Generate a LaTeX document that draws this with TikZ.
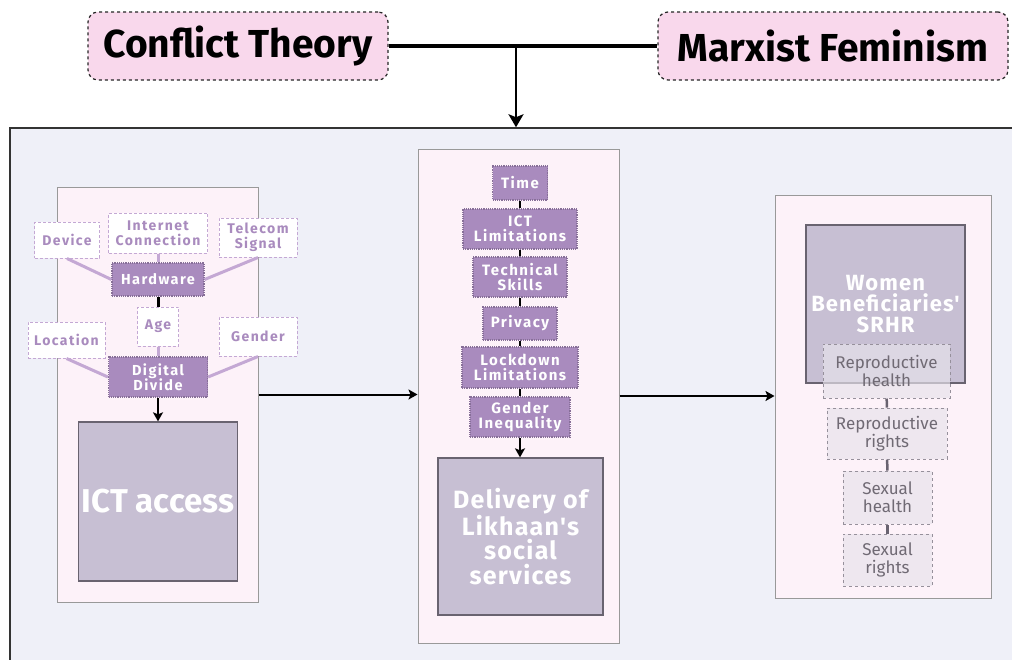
\documentclass[tikz,border=0pt]{standalone}
\usepackage{fontspec}
\setmainfont{Fira Sans}
\newfontfamily\spacedfont{Fira Sans}[LetterSpace=10]
\newfontfamily\widefont{Fira Sans}[LetterSpace=5]
\usetikzlibrary{shapes.geometric, arrows.meta, positioning, calc}
\definecolor{outerfill}{RGB}{239,240,248}
\definecolor{panelfill}{RGB}{253,242,249}
\definecolor{theorypink}{RGB}{249,216,236}
\definecolor{barrierpurple}{RGB}{169,139,190}
\definecolor{factorline}{RGB}{196,168,212}
\definecolor{outcomegray}{RGB}{199,191,211}
\definecolor{outcomeline}{RGB}{105,99,112}
\definecolor{componentfill}{RGB}{231,227,235}
\definecolor{componentline}{RGB}{150,144,155}
\definecolor{componenttext}{RGB}{112,106,116}
\tikzstyle{outerbox} = [rectangle, draw=black!80, line width=1.5, fill=outerfill]
\tikzstyle{panel} = [rectangle, draw=black!40, line width=1, fill=panelfill]
\tikzstyle{theory} = [rectangle, rounded corners=10, dashed, draw=black!85, line width=1.2, fill=theorypink, font=\bfseries\fontsize{39}{42}\selectfont]
\tikzstyle{factor} = [rectangle, densely dashed, draw=factorline, line width=1, fill=white, text=barrierpurple, align=center, inner sep=2, font=\spacedfont\bfseries\fontsize{14}{15}\selectfont]
\tikzstyle{barrier} = [rectangle, densely dotted, draw=barrierpurple!80!black, line width=1.2, fill=barrierpurple, text=white, align=center, inner sep=2, font=\spacedfont\bfseries\fontsize{14.5}{15}\selectfont]
\tikzstyle{outcome} = [rectangle, draw=outcomeline, line width=1.3, fill=outcomegray, text=white, align=center, font=\widefont\bfseries\fontsize{25}{24.5}\selectfont]
\tikzstyle{component} = [rectangle, dashed, draw=componentline, line width=1, fill=componentfill, fill opacity=0.67, text opacity=1, text=componenttext, align=center, inner sep=2, font=\fontsize{17}{18}\selectfont]
\tikzstyle{arrow} = [line width=2, -{Stealth[length=9pt, width=10pt, inset=2pt]}]
\tikzstyle{bigarrow} = [line width=2.8, -{Stealth[length=13pt, width=15pt, inset=3pt]}]
\tikzstyle{link} = [line width=3, draw=factorline]
\tikzstyle{tie} = [line width=3, draw=black]
\tikzstyle{chain} = [line width=2.5, draw=outcomeline]

\begin{document}
\begin{tikzpicture}[x=1pt, y=-1pt]
\useasboundingbox (0,0) rectangle (1012,659);

% Theories
\node (conflict) [theory, minimum width=300, minimum height=68] at (238,46) {Conflict Theory};
\node (marxist) [theory, minimum width=350, minimum height=68] at (833,46) {Marxist Feminism};
\coordinate (join) at (516,46);

% Frame and panels
\node (outer) [outerbox, minimum width=1030, minimum height=560] at (525,408) {};
\node (leftpanel) [panel, minimum width=201, minimum height=415] at (157.5,394.5) {};
\node (midpanel) [panel, minimum width=201, minimum height=494] at (518.5,396) {};
\node (rightpanel) [panel, minimum width=216, minimum height=403] at (883,396.5) {};

% Left panel
\node (device) [factor, minimum width=65, minimum height=36] at (67,240) {Device};
\node (internet) [factor, minimum width=99, minimum height=40] at (158,233) {Internet\\Connection};
\node (telecom) [factor, minimum width=78, minimum height=39] at (258,237.5) {Telecom\\Signal};
\node (hardware) [barrier, minimum width=92, minimum height=33] at (158,279.5) {Hardware};
\node (age) [factor, minimum width=41, minimum height=39] at (158,326.5) {Age};
\node (location) [factor, minimum width=77, minimum height=36] at (66.5,340) {Location};
\node (gender) [factor, minimum width=78, minimum height=39] at (258,336.5) {Gender};
\node (divide) [barrier, minimum width=99, minimum height=40] at (158,377) {Digital\\Divide};
\node (ict) [outcome, minimum width=158, minimum height=159, font=\bfseries\fontsize{33}{36}\selectfont] at (158,501.5) {ICT access};

% Middle panel
\node (time) [barrier, minimum width=55, minimum height=34, font=\spacedfont\bfseries\fontsize{15}{15.5}\selectfont] at (520,183) {Time};
\node (ictlim) [barrier, minimum width=114, minimum height=40, font=\spacedfont\bfseries\fontsize{15}{15.5}\selectfont] at (520,229) {ICT\\Limitations};
\node (skills) [barrier, minimum width=94, minimum height=40, font=\spacedfont\bfseries\fontsize{15}{15.5}\selectfont] at (520,277) {Technical\\Skills};
\node (privacy) [barrier, minimum width=74, minimum height=33, font=\spacedfont\bfseries\fontsize{15}{15.5}\selectfont] at (520,323.5) {Privacy};
\node (lockdown) [barrier, minimum width=116, minimum height=41, font=\spacedfont\bfseries\fontsize{15}{15.5}\selectfont] at (520,367.5) {Lockdown\\Limitations};
\node (inequality) [barrier, minimum width=100, minimum height=40, font=\spacedfont\bfseries\fontsize{15}{15.5}\selectfont] at (520,417) {Gender\\Inequality};
\node (delivery) [outcome, minimum width=165, minimum height=157] at (520.5,536.5) {Delivery of\\Likhaan's\\social\\services};

% Right panel
\node (srhr) [outcome, minimum width=159, minimum height=158, font=\widefont\bfseries\fontsize{22}{21}\selectfont] at (885.5,304) {Women\\Beneficiaries'\\SRHR};
\node (rephealth) [component, minimum width=127, minimum height=54] at (886.5,371) {Reproductive\\health};
\node (reprights) [component, minimum width=120, minimum height=51] at (887,433.5) {Reproductive\\rights};
\node (sexhealth) [component, minimum width=89, minimum height=53] at (887.5,497.5) {Sexual\\health};
\node (sexrights) [component, minimum width=89, minimum height=52] at (887.5,560) {Sexual\\rights};

% Connectors
\draw [tie, line width=4] (conflict.east) -- (marxist.west);
\draw [bigarrow] (join) -- (join |- outer.north);
\draw [link] (device.south) -- (hardware.west);
\draw [link] (internet.south) -- (hardware.north);
\draw [link] (telecom.south) -- (hardware.east);
\draw [tie] (hardware.south) -- (age.north);
\draw [link] (age.south) -- (divide.north);
\draw [link] (location.south) -- (divide.west);
\draw [link] (gender.south) -- (divide.east);
\draw [arrow] (divide.south) -- (divide.south |- ict.north);
\draw [tie, line width=2.5] (time) -- (ictlim);
\draw [tie, line width=2.5] (ictlim) -- (skills);
\draw [tie, line width=2.5] (skills) -- (privacy);
\draw [tie, line width=2.5] (privacy) -- (lockdown);
\draw [tie, line width=2.5] (lockdown) -- (inequality);
\draw [arrow] (inequality.south) -- (inequality.south |- delivery.north);
\draw [chain] (rephealth) -- (reprights);
\draw [chain] (reprights) -- (sexhealth);
\draw [chain] (sexhealth) -- (sexrights);
\draw [arrow] (leftpanel.east) -- (leftpanel.east -| midpanel.west);
\draw [arrow] (midpanel.east) -- (midpanel.east -| rightpanel.west);

\end{tikzpicture}
\end{document}
